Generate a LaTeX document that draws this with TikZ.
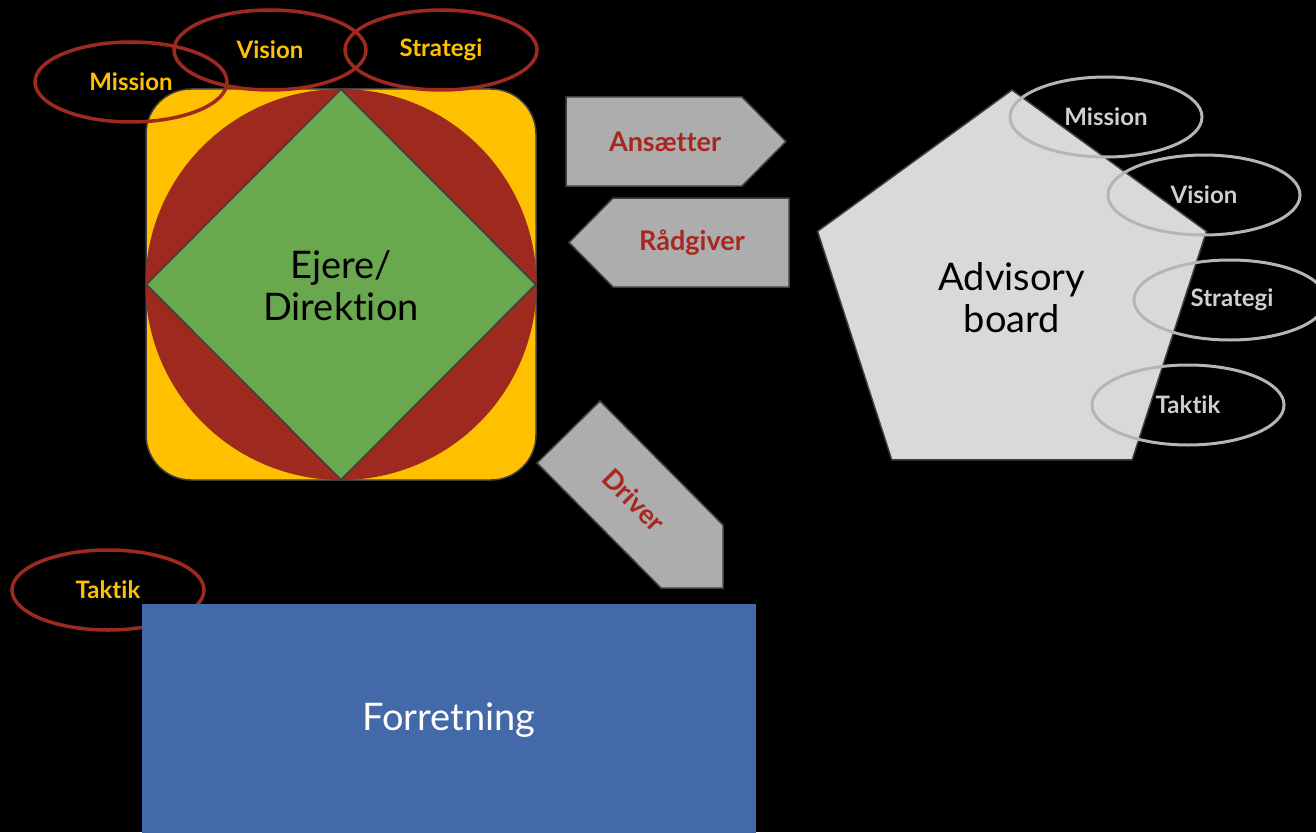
\documentclass[tikz,border=0pt]{standalone}
\usepackage{fontspec}
\setmainfont{Lato}[Ligatures=NoCommon]
\usetikzlibrary{shapes.geometric}

\definecolor{gul}{HTML}{FFC000}
\definecolor{roed}{HTML}{9E2A1F}
\definecolor{groen}{HTML}{6AA84F}
\definecolor{blaa}{HTML}{4469A9}
\definecolor{pil}{HTML}{ADADAD}
\definecolor{femkant}{HTML}{D9D9D9}
\definecolor{kant}{HTML}{3F3F3F}
\definecolor{ring}{HTML}{B5B5B5}
\definecolor{ringtxt}{HTML}{CFCFCF}
\definecolor{piltxt}{HTML}{A8281F}

\begin{document}
\begin{tikzpicture}[x=1pt,y=-1pt,
    big/.style={font=\fontsize{38}{42}\selectfont,align=center,inner sep=0},
    small/.style={font=\fontsize{24}{27}\selectfont\bfseries,inner sep=0},
    piltekst/.style={font=\fontsize{27}{30}\selectfont\bfseries,inner sep=0,text=piltxt},
    redring/.style={ellipse,draw=roed,line width=3.5pt,minimum width=192pt,minimum height=80pt,inner sep=0,text=gul},
    grayring/.style={ellipse,draw=ring,line width=3pt,minimum width=192pt,minimum height=80pt,inner sep=0},
    pilform/.style={fill=pil,draw=kant,line width=1.5pt,line join=miter}]
        \fill[black] (0,0) rectangle (1316,832);
        \useasboundingbox (0,0) rectangle (1316,832);

        % ejere / direktion
        \draw[fill=gul,draw=kant,line width=1.5pt,rounded corners=45pt] (146,89) rectangle (536,480);
        \fill[roed] (341,284.5) circle (195.5);
        \node[diamond,fill=groen,draw=kant,line width=1.5pt,inner sep=0,minimum width=390pt,minimum height=391pt] (dia) at (341,284.5) {};
        \node[big] (ejere) at (341,286) {Ejere/\\Direktion};

        \node[redring,small] (m1) at (131,82) {Mission};
        \node[redring,small] (v1) at (270,50) {Vision};
        \node[redring,small] (s1) at (441,50) {Strategi};

        % pile
        \draw[pilform] (566,97) -- (742,97) -- (786,141.5) -- (742,186) -- (566,186) -- cycle;
        \node[piltekst] (ans) at (665,142) {Ansætter};
        \draw[pilform] (789,198) -- (613,198) -- (569,242.5) -- (613,287) -- (789,287) -- cycle;
        \node[piltekst] (raad) at (692,243) {Rådgiver};
        \draw[pilform] (600,401) -- (537,463) -- (661,588) -- (723,588) -- (723,525) -- cycle;
        \node[piltekst,rotate=-45] (drv) at (634,500) {Driver};

        % advisory board
        \node[regular polygon,regular polygon sides=5,fill=femkant,draw=kant,line width=1.5pt,inner sep=0,minimum size=409pt] (board) at (1012,294.5) {};
        \node[big] (adv) at (1012,298) {Advisory\\board};
        \node[grayring] (m2) at (1106,117) {};
        \node[grayring] (v2) at (1204,195) {};
        \node[grayring] (s2) at (1230,300) {};
        \node[grayring] (t2) at (1188,405) {};
        \node[small,text=ringtxt] at (m2) {Mission};
        \node[small,text=ringtxt] at (v2) {Vision};
        \node[small,text=ringtxt] at (1232,300) {Strategi};
        \node[small,text=ringtxt] at (t2) {Taktik};

        % forretning
        \node[redring,small] (t1) at (108,590) {Taktik};
        \fill[blaa] (142,604) rectangle (756,840);
        \node[big,text=white] (forr) at (449,720) {Forretning};
\end{tikzpicture}
\end{document}
